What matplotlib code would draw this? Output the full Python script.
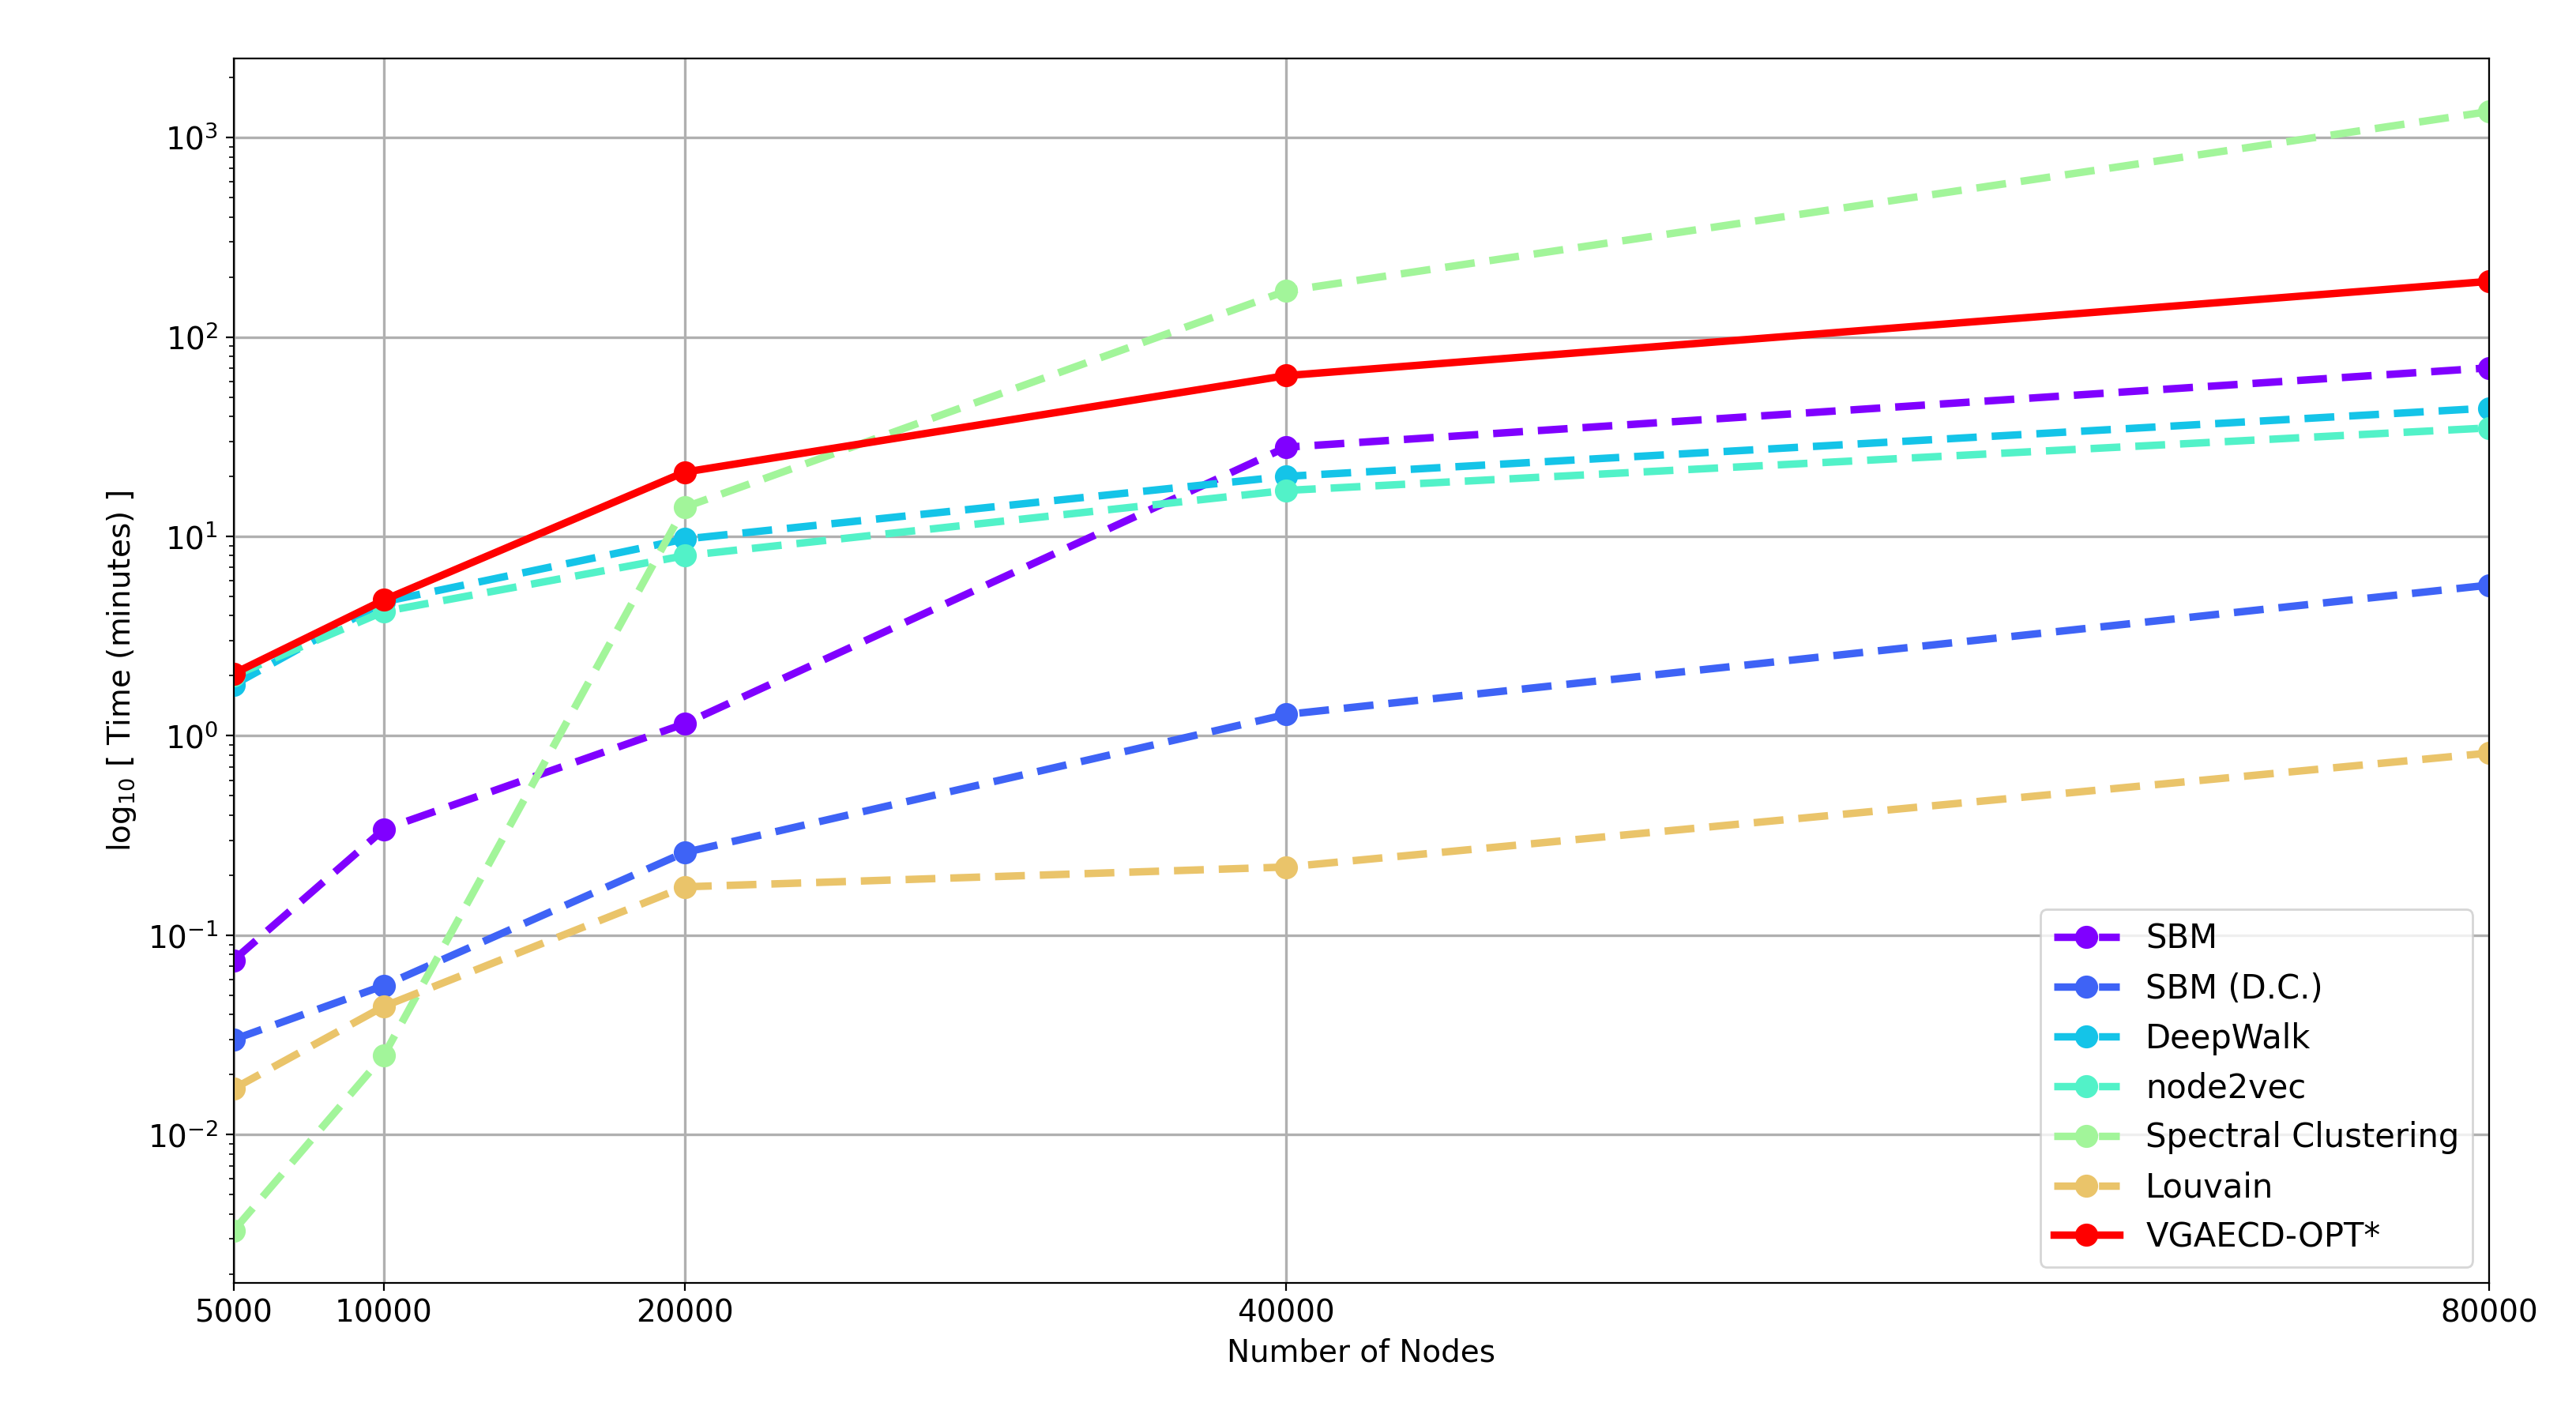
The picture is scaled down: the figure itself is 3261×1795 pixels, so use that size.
import matplotlib.pyplot as plt

nodes = [5000, 10000, 20000, 40000, 80000]

sbm = [0.075, 0.34, 1.15, 28, 70]
sbm_dc = [0.030, 0.056, 0.26, 1.28, 5.7]
deepwalk = [1.8, 4.7, 9.7, 20, 44]
node2vec = [2.0, 4.2, 8.0, 17, 35]
spectral = [0.0033, 0.025, 14, 170, 1350]
louvain = [0.017, 0.044, 0.175, 0.22, 0.82]
vgaecd = [2.05, 4.8, 21, 64, 190]

series = [
    ("SBM", sbm, "#8000ff", "--"),
    ("SBM (D.C.)", sbm_dc, "#3e63f6", "--"),
    ("DeepWalk", deepwalk, "#14c4e8", "--"),
    ("node2vec", node2vec, "#52f2c8", "--"),
    ("Spectral Clustering", spectral, "#a2f59a", "--"),
    ("Louvain", louvain, "#eac46a", "--"),
    ("VGAECD-OPT*", vgaecd, "#ff0000", "-"),
]

fig = plt.figure(figsize=(16.31, 8.975), dpi=200)
ax = fig.add_axes([0.0906, 0.095, 0.8754, 0.864])

for name, vals, col, ls in series:
    ax.plot(nodes, vals, ls, color=col, lw=3.4, marker="o", markersize=9.5,
            dashes=(4, 2) if ls == "--" else (None, None), label=name)

ax.set_yscale("log")
ax.set_xlim(5000, 80000)
ax.set_ylim(0.0018, 2500)
ax.set_xticks(nodes)
ax.set_xticklabels([str(n) for n in nodes])
ax.tick_params(labelsize=14)
ax.grid(True, color="#b0b0b0", lw=1.2)
ax.set_xlabel("Number of Nodes", fontsize=14)
ax.set_ylabel(r"log$_{10}$ [ Time (minutes) ]", fontsize=14)
ax.legend(loc="lower right", fontsize=15, handlelength=2.0)

fig.savefig("out.png")
